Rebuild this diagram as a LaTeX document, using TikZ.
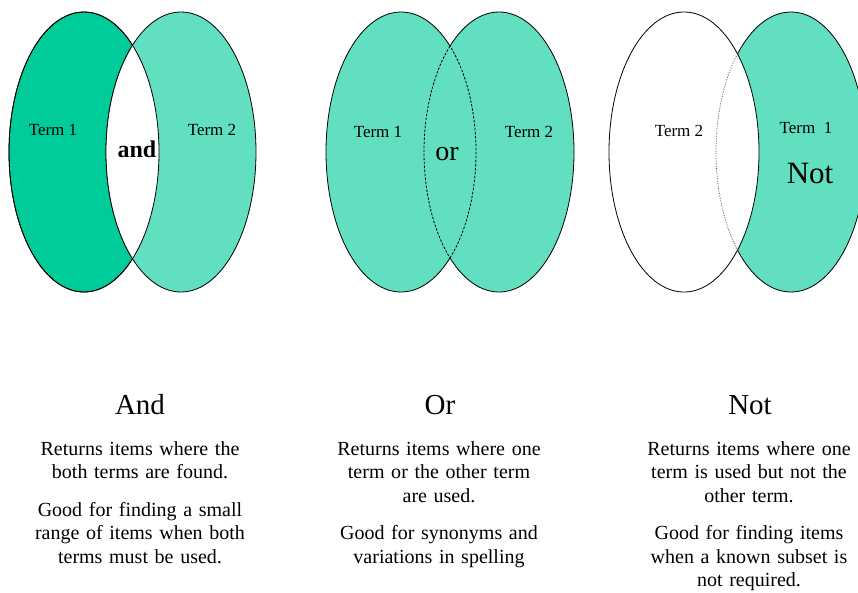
\documentclass[tikz,border=0pt]{standalone}
\usepackage{fontspec}
\setmainfont{Liberation Serif}
\definecolor{termgreen}{RGB}{0,204,153}
\colorlet{hatchgreen}{termgreen!62!white}
\tikzset{
termsize/.style={x radius=75pt,y radius=140pt},
vennline/.style={draw=black,line width=0.8pt},
solidpart/.style={vennline,fill=termgreen},
hatchpart/.style={vennline,fill=hatchgreen},
hiddenpart/.style={black,line width=0.8pt,dash pattern=on 2.5pt off 1.5pt},
dotpart/.style={black!70,line width=0.7pt,dash pattern=on 1pt off 1.5pt},
termlabel/.style={inner sep=0pt,font=\fontsize{17}{20}\selectfont},
titletext/.style={anchor=base,inner sep=0pt,font=\fontsize{29}{34}\selectfont},
desctext/.style={anchor=north,inner sep=0pt,align=center,text width=250pt,font=\fontsize{20}{23.5}\selectfont}
}

\begin{document}
\begin{tikzpicture}[x=1pt,y=-1pt]
\useasboundingbox (0,0) rectangle (858,592);
\clip (0,0) rectangle (858,592);
%And p=(84,152),(181,152)
\coordinate (andL) at (84,152);
\coordinate (andR) at (181,152);
\path[solidpart] (andL) ellipse[termsize];
\path[hatchpart] (andR) ellipse[termsize];
\begin{scope}
\clip (andL) ellipse[termsize];
\path[vennline,fill=white] (andR) ellipse[termsize];
\end{scope}
\draw[vennline] (andL) ellipse[termsize];
\node[termlabel] (andterm1) at (53,130) {Term 1};
\node[termlabel] (andterm2) at (212,130) {Term 2};
\node[inner sep=0pt,font=\bfseries\fontsize{24}{28}\selectfont] (andop) at (137,149) {and};
%Or p=(401,152),(499,152)
\coordinate (orL) at (401,152);
\coordinate (orR) at (499,152);
\fill[hatchgreen] (orL) ellipse[termsize];
\fill[hatchgreen] (orR) ellipse[termsize];
\draw[vennline] ([shift={(49.2:75pt and 140pt)}]orL) arc[termsize,start angle=49.2,end angle=310.8];
\draw[hiddenpart] ([shift={(-49.2:75pt and 140pt)}]orL) arc[termsize,start angle=-49.2,end angle=49.2];
\draw[vennline] ([shift={(-130.8:75pt and 140pt)}]orR) arc[termsize,start angle=-130.8,end angle=130.8];
\draw[hiddenpart] ([shift={(130.8:75pt and 140pt)}]orR) arc[termsize,start angle=130.8,end angle=229.2];
\node[termlabel] (orterm1) at (378,132) {Term 1};
\node[termlabel] (orterm2) at (529,132) {Term 2};
\node[inner sep=0pt,font=\fontsize{28}{32}\selectfont] (orop) at (447,154) {or};
%Not p=(684,152),(791,152)
\coordinate (notL) at (684,152);
\coordinate (notR) at (791,152);
\path[hatchpart] (notR) ellipse[termsize];
\path[vennline,fill=white] (notL) ellipse[termsize];
\draw[dotpart] ([shift={(135.5:75pt and 140pt)}]notR) arc[termsize,start angle=135.5,end angle=224.5];
\node[termlabel] (notterm2) at (679,131) {Term 2};
\node[termlabel] (notterm1) at (806,128) {Term~~1};
\node[inner sep=0pt,font=\fontsize{31}{36}\selectfont] (notop) at (810,173) {Not};
%titles and text
\node[titletext] (andtitle) at (140,414) {And};
\node[titletext] (ortitle) at (440,414) {Or};
\node[titletext] (nottitle) at (750,414) {Not};
\node[desctext] (anddesc) at (140,441) {Returns items where the\\both terms are found.\\[14pt]Good for finding a small\\range of items when both\\terms must be used.};
\node[desctext] (ordesc) at (439,441) {Returns items where one\\term or the other term\\are used.\\[14pt]Good for synonyms and\\variations in spelling};
\node[desctext] (notdesc) at (749,441) {Returns items where one\\term is used but not the\\other term.\\[14pt]Good for finding items\\when a known subset is\\not required.};
\end{tikzpicture}
\end{document}
